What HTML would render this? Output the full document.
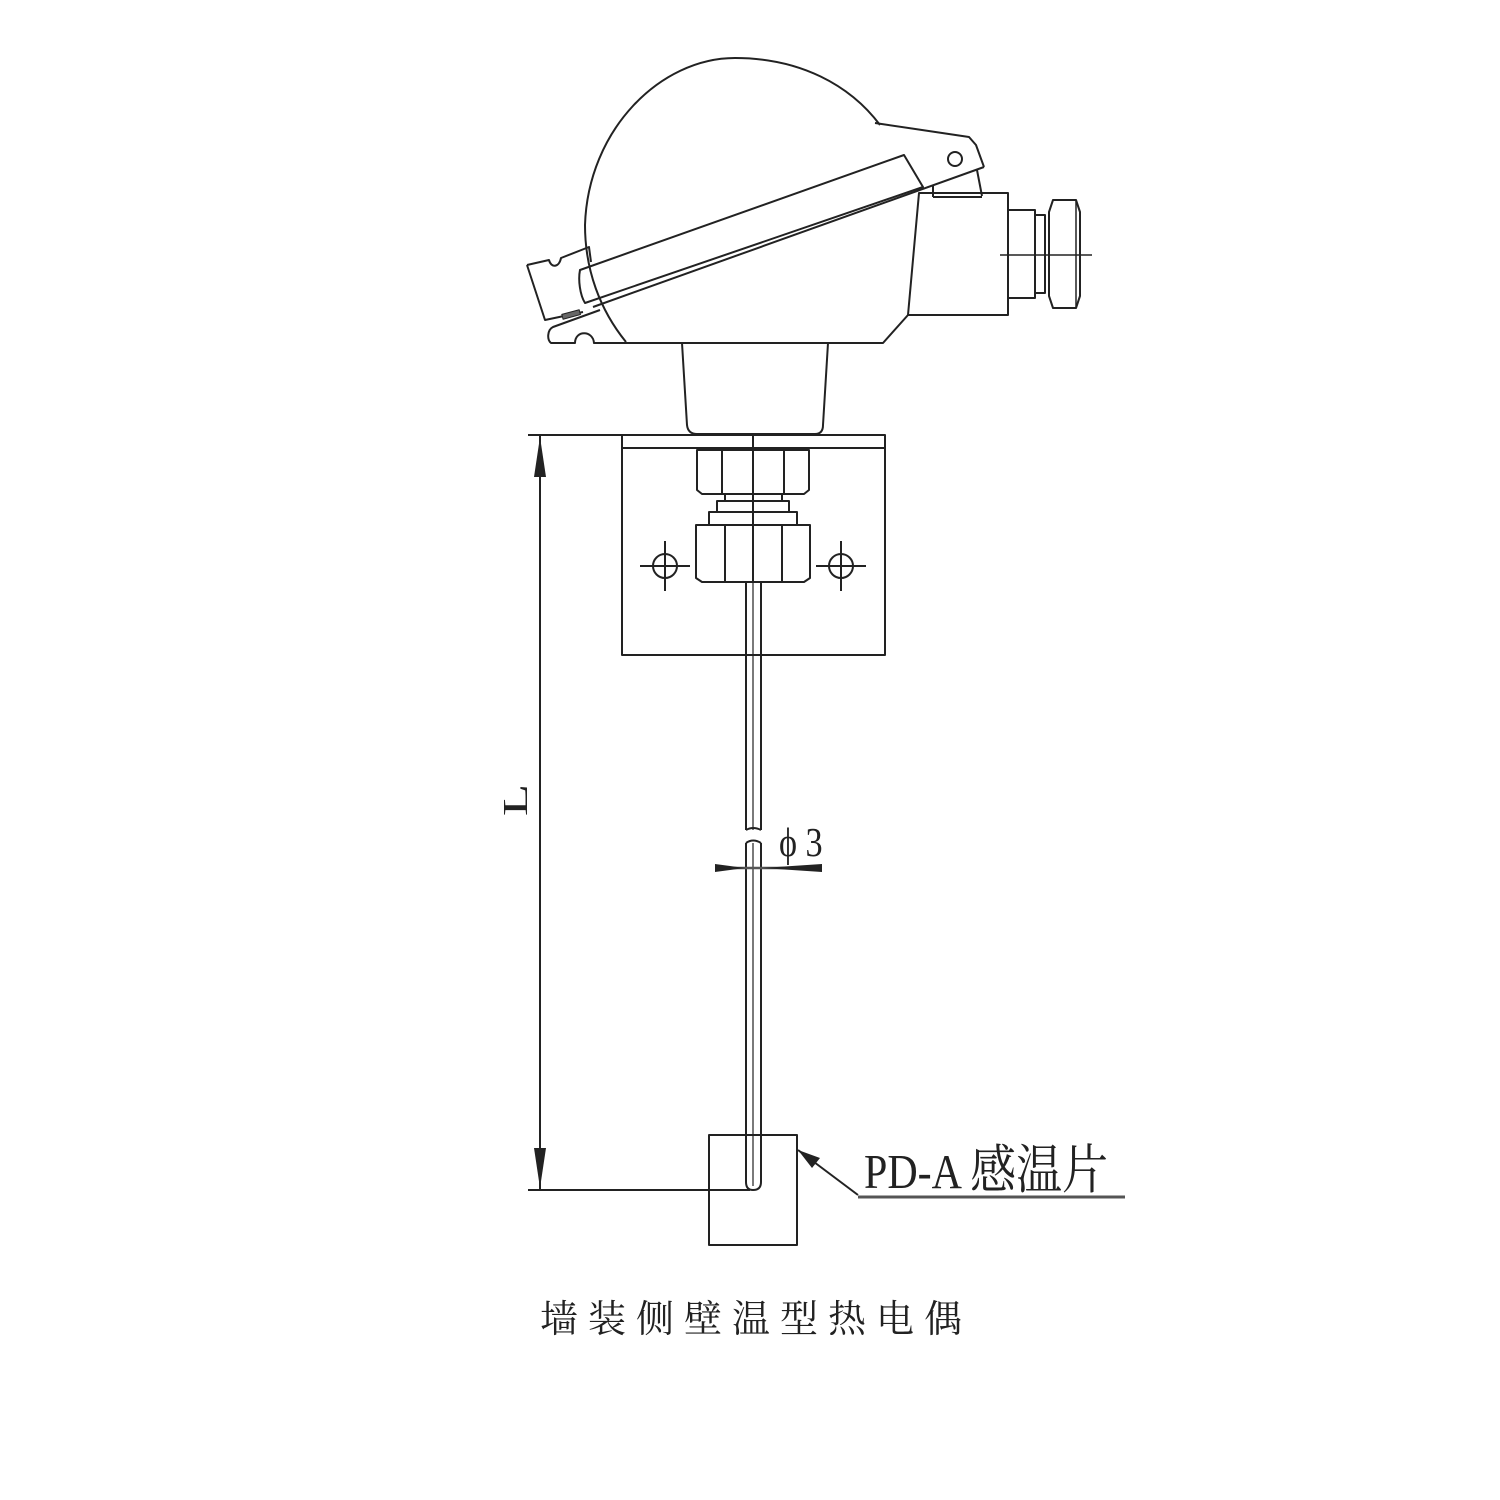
<!DOCTYPE html>
<html><head><meta charset="utf-8"><style>
html,body{margin:0;padding:0;background:#fff;}
svg{display:block}
</style></head><body>
<svg width="1500" height="1500" viewBox="0 0 1500 1500" xmlns="http://www.w3.org/2000/svg">
<g fill="none" stroke="#222" stroke-width="2" stroke-linejoin="round">
<path d="M626,342 C600,310 585,270 585,225 C588,130 660,58 735,58 C800,58 850,85 880,125"/>
<path d="M875,123 L969,137 L976,145 L984,167 M977,170 L982,196 M933,197 L982,197 M933,185 L933,197"/>
<circle cx="955" cy="159" r="7"/>
<path d="M580,270 L904,155 L923,187 L585,303 C580,295 578,280 580,270 Z"/>
<path d="M593,307 L984,167"/>
<path d="M527,265 L549,260 C551,268 559,268 561,258 L589,247 L591,262"/>
<path d="M527,265 L545,320 L583,312"/>
<rect x="562" y="312" width="18" height="5" fill="#666" stroke-width="1" transform="rotate(-15 571 314)"/>
<path d="M600,310 L553,327 C547,330 547,340 551,343 L575,343 C575,330 593,330 594,343 L883,343 L908,315"/>
<path d="M908,315 L919,193 L1008,193 L1008,315 Z"/>
<rect x="1008" y="210" width="27" height="88"/>
<rect x="1035" y="215" width="10" height="78"/>
<path d="M1053,200 L1076,200 L1080,212 L1080,296 L1076,308 L1053,308 L1049,296 L1049,212 Z"/>
<line x1="1076" y1="200" x2="1076" y2="308" stroke-width="1.5"/>
<line x1="1000" y1="255" x2="1092" y2="255" stroke-width="1.5"/>
<path d="M682,343 L687,425 Q688,434 697,434 L815,434 Q823,434 823,425 L828,343"/>
<rect x="622" y="435" width="263" height="220"/>
<line x1="622" y1="448" x2="885" y2="448"/>
<line x1="528" y1="435" x2="622" y2="435"/>
<path d="M697,450 L809,450 L809,490 L804,494 L702,494 L697,490 Z"/>
<line x1="722" y1="450" x2="722" y2="494"/><line x1="784" y1="450" x2="784" y2="494"/>
<rect x="725" y="494" width="57" height="7"/>
<rect x="717" y="501" width="72" height="11"/>
<rect x="709" y="512" width="88" height="13"/>
<path d="M696,525 L810,525 L810,578 L804,582 L702,582 L696,578 Z"/>
<line x1="725" y1="525" x2="725" y2="582"/><line x1="782" y1="525" x2="782" y2="582"/>
<line x1="753" y1="435" x2="753" y2="582"/>
<circle cx="665" cy="566" r="12"/><line x1="640" y1="566" x2="690" y2="566"/><line x1="665" y1="541" x2="665" y2="591"/>
<circle cx="841" cy="566" r="12"/><line x1="816" y1="566" x2="866" y2="566"/><line x1="841" y1="541" x2="841" y2="591"/>
<path d="M746,582 L746,830 M761,582 L761,830 M746,830 Q753,826 761,830"/>
<path d="M746,843 Q753,838 761,843 M746,843 L746,1182 Q746,1190 753,1190 Q761,1190 761,1182 L761,843"/>
<line x1="753" y1="582" x2="753" y2="830" stroke-width="1.2"/>
<line x1="753" y1="843" x2="753" y2="1186" stroke-width="1.2"/>
<rect x="709" y="1135" width="88" height="110"/>
<line x1="540" y1="435" x2="540" y2="1190"/>
<line x1="528" y1="1190" x2="750" y2="1190"/>
<line x1="715" y1="868" x2="822" y2="868" stroke="#555" stroke-width="2.5"/>
<line x1="798" y1="1150" x2="858" y2="1195"/>
<line x1="858" y1="1197" x2="1125" y2="1197" stroke="#555" stroke-width="3"/>
</g>
<g fill="#222">
<polygon points="540,437 534,477 546,477"/>
<polygon points="540,1188 534,1148 546,1148"/>
<polygon points="715,864 745,868 715,872"/>
<polygon points="822,864 762,868 822,872"/>
<polygon points="798,1150 812,1168 820,1158"/>
</g>
<text x="0" y="0" transform="translate(527,800) rotate(-90) scale(1.2,0.8)" text-anchor="middle" font-family="Liberation Serif, serif" font-size="44" fill="#222">L</text>
<text x="0" y="0" transform="translate(779,856) scale(0.95,1.15)" font-family="Liberation Serif, serif" font-size="36" fill="#222">ϕ 3</text>
<text x="0" y="0" transform="translate(864,1188) scale(1.0,1.15)" font-family="'Liberation Serif','Noto Serif CJK SC',serif" font-size="42" fill="#222">PD-A <tspan font-size="46">感温片</tspan></text>
<text x="540" y="1332" font-family="'Liberation Serif','Noto Serif CJK SC',serif" font-size="38" letter-spacing="10" fill="#222">墙装侧壁温型热电偶</text>
</svg>
</body></html>
